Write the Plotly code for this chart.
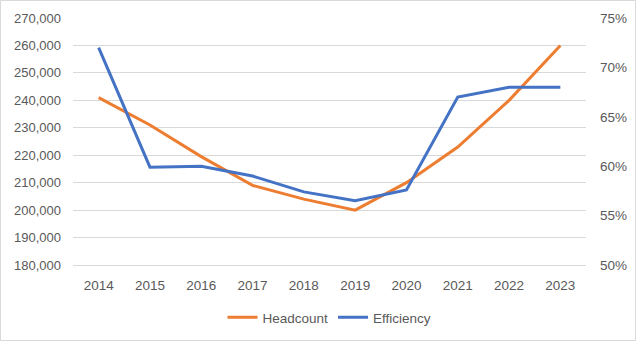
import plotly.graph_objects as go

years = ["2014", "2015", "2016", "2017", "2018", "2019", "2020", "2021", "2022", "2023"]
headcount = [241000, 231000, 219500, 209000, 204000, 200000, 210000, 223000, 240000, 260000]
efficiency = [0.72, 0.599, 0.600, 0.590, 0.574, 0.565, 0.576, 0.670, 0.680, 0.680]

W, H = 637, 342
ml, mr, mt, mb = 73, 51, 18, 77
pw, ph = W - ml - mr, H - mt - mb

font = dict(family="Liberation Sans, Arial, sans-serif", size=13, color="#595959")

fig = go.Figure()
fig.add_trace(go.Scatter(x=years, y=headcount, name="Headcount", mode="lines",
                         line=dict(color="#ED7D31", width=3), yaxis="y"))
fig.add_trace(go.Scatter(x=years, y=efficiency, name="Efficiency", mode="lines",
                         line=dict(color="#4472C4", width=3), yaxis="y2"))

fig.update_layout(
    width=W, height=H,
    margin=dict(l=ml, r=mr, t=mt, b=mb, autoexpand=False),
    paper_bgcolor="white", plot_bgcolor="white",
    font=font,
    showlegend=True,
    legend=dict(orientation="h", x=0.5, xanchor="center", y=-0.15, yanchor="top",
                font=dict(size=13.5, color="#595959"), traceorder="normal"),
    xaxis=dict(type="category", range=[-0.5, 9.5], showgrid=False, zeroline=False,
               showline=True, linecolor="#D9D9D9", ticks="", ticklabelstandoff=8,
               tickfont=dict(size=13.5), automargin=False),
    yaxis=dict(range=[180000, 270000], dtick=10000, tickformat=",d",
               showgrid=True, gridcolor="#D9D9D9", gridwidth=1, zeroline=False,
               ticks="", ticklabelstandoff=11, automargin=False),
    yaxis2=dict(range=[0.50, 0.75], dtick=0.05, tickformat=".0%", overlaying="y",
                side="right", showgrid=False, zeroline=False, ticks="",
                ticklabelstandoff=13, tickfont=dict(size=13.5), automargin=False),
    shapes=[dict(type="rect", xref="paper", yref="paper",
                 x0=-(ml - 0.5) / pw, x1=1 + (mr - 1.5) / pw,
                 y0=-(mb - 1.5) / ph, y1=1 + (mt - 0.5) / ph,
                 line=dict(color="#D9D9D9", width=1), layer="below")],
)

fig.write_html("out.html")
